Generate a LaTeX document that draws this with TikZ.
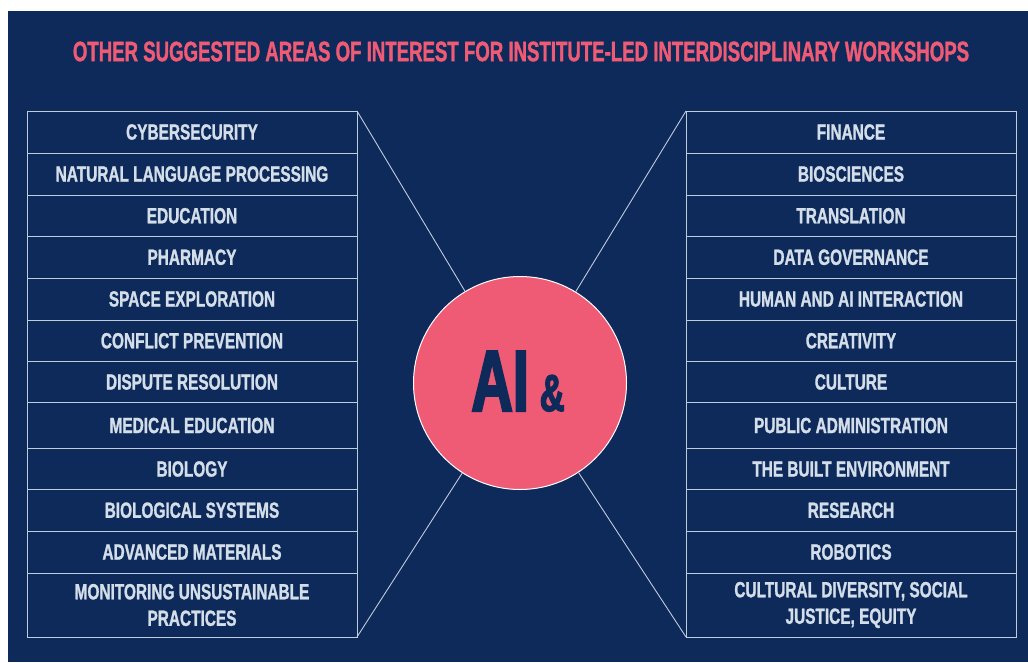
\documentclass[tikz,border=0pt]{standalone}
\usepackage{fontspec}
\newfontfamily\condfont{Liberation Sans}[FakeStretch=0.70, FakeBold=1.2]
\newfontfamily\titlefont{Liberation Sans}[FakeStretch=0.665, FakeBold=1.2]
\newfontfamily\hubfont{Liberation Sans}[FakeStretch=0.66, FakeBold=2.5]
\definecolor{bgnavy}{HTML}{0E2A5B}
\definecolor{pinkred}{HTML}{EF5B74}
\definecolor{celltext}{HTML}{D3DEE9}
\definecolor{cellline}{HTML}{BFCCDB}
\tikzset{
  cell/.style={draw=cellline, line width=1pt, rectangle, minimum width=330pt, inner sep=0pt, outer sep=0pt,
    text=celltext, font=\condfont\bfseries\fontsize{22}{26.5}\selectfont, align=center},
  conn/.style={draw=cellline, line width=0.9pt},
  hub/.style={circle, fill=pinkred, draw=white, line width=1pt, minimum size=213pt, inner sep=0pt},
  titletext/.style={text=pinkred, font=\titlefont\bfseries\fontsize{28}{30}\selectfont, inner sep=0pt}
}
\begin{document}
\begin{tikzpicture}[x=1pt,y=-1pt]
\useasboundingbox (0,0) rectangle (1028,662);
\fill[white] (0,0) rectangle (1028,662);
\fill[bgnavy] (8,11) rectangle (1028,662);
\node[titletext] (title) at (521,51.5) {OTHER SUGGESTED AREAS OF INTEREST FOR INSTITUTE-LED INTERDISCIPLINARY WORKSHOPS};
\foreach \i/\t/\b/\txt in {
  1/111/153/{CYBERSECURITY},
  2/153/195/{NATURAL LANGUAGE PROCESSING},
  3/195/236.5/{EDUCATION},
  4/236.5/278/{PHARMACY},
  5/278/320/{SPACE EXPLORATION},
  6/320/361.5/{CONFLICT PREVENTION},
  7/361.5/402.5/{DISPUTE RESOLUTION},
  8/402.5/448.5/{MEDICAL EDUCATION},
  9/448.5/489.5/{BIOLOGY},
  10/489.5/531/{BIOLOGICAL SYSTEMS},
  11/531/573/{ADVANCED MATERIALS},
  12/573/637/{MONITORING UNSUSTAINABLE\\PRACTICES}}{
  \node[cell, minimum height={(\b-\t)*1pt}] (L\i) at (192,{(\t+\b)/2}) {\txt};
}
\foreach \i/\t/\b/\txt in {
  1/111/153/{FINANCE},
  2/153/195/{BIOSCIENCES},
  3/195/236.5/{TRANSLATION},
  4/236.5/278/{DATA GOVERNANCE},
  5/278/320/{HUMAN AND AI INTERACTION},
  6/320/361.5/{CREATIVITY},
  7/361.5/402.5/{CULTURE},
  8/402.5/448.5/{PUBLIC ADMINISTRATION},
  9/448.5/489.5/{THE BUILT ENVIRONMENT},
  10/489.5/531/{RESEARCH},
  11/531/573/{ROBOTICS},
  12/573/637/{CULTURAL DIVERSITY, SOCIAL\\JUSTICE, EQUITY}}{
  \node[cell, minimum height={(\b-\t)*1pt}] (R\i) at (851,{(\t+\b)/2}) {\txt};
}
\node[hub] (circ) at (520,383) {};
\draw[conn] (L1.north east) -- (circ);
\draw[conn] (L12.south east) -- (circ);
\draw[conn] (R1.north west) -- (circ);
\draw[conn] (R12.south west) -- (circ);
\node[anchor=base, inner sep=0pt, text=bgnavy, font=\hubfont\bfseries] (ailabel) at (518,411)
  {\fontsize{87}{87}\selectfont AI\hspace{11pt}\fontsize{52}{52}\selectfont\&};
\end{tikzpicture}
\end{document}
